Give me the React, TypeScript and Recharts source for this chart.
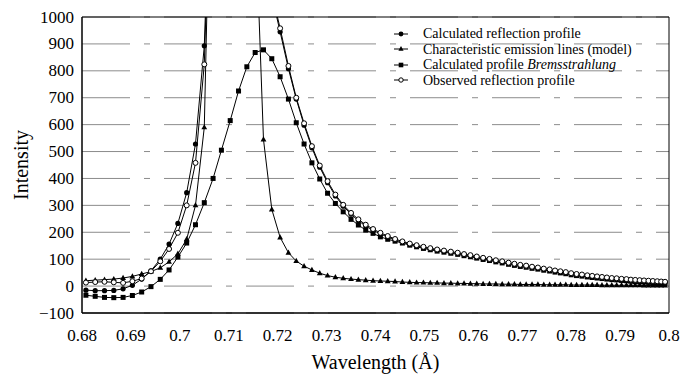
import {
  LineChart,
  Line,
  XAxis,
  YAxis,
  CartesianGrid,
  Legend,
  ReferenceArea,
  Label,
} from 'recharts';

// wavelength grid (Å)
const wavelength = [
  0.6808, 0.6827, 0.6846, 0.6865, 0.6884, 0.6903, 0.6922, 0.6941, 0.696, 0.6978,
  0.6996, 0.7014, 0.7032, 0.705, 0.7068, 0.7085, 0.7103, 0.712, 0.7137, 0.7154,
  0.7171, 0.7188, 0.7205, 0.7222, 0.7238, 0.7254, 0.727, 0.7286, 0.7302, 0.7318,
  0.7334, 0.735, 0.7365, 0.738, 0.7395, 0.741, 0.7425, 0.744, 0.7455, 0.747,
  0.7484, 0.7498, 0.7512, 0.7526, 0.754, 0.7554, 0.7568, 0.7581, 0.7594, 0.7607,
  0.762, 0.7633, 0.7646, 0.7659, 0.7672, 0.7684, 0.7696, 0.7708, 0.772, 0.7732,
  0.7744, 0.7756, 0.7767, 0.7778, 0.7789, 0.78, 0.7811, 0.7822, 0.7833, 0.7843,
  0.7853, 0.7863, 0.7873, 0.7883, 0.7893, 0.7903, 0.7913, 0.7922, 0.7931, 0.794,
  0.7949, 0.7958, 0.7967, 0.7976, 0.7984, 0.7992,
];

const calculated = [
  -15, -17, -17, -16, -10, 3, 26, 57, 100, 156,
  233, 347, 528, 893, 1840, 2700, 3300, 3500, 3200, 2600,
  1800, 1080, 945, 808, 695, 598, 514, 442, 384, 335,
  297, 267, 243, 223, 207, 194, 182, 171, 163, 155,
  149, 143, 138, 133, 129, 125, 121, 116, 112, 107,
  102, 98, 93, 89, 84, 80, 76, 73, 69, 66,
  62, 59, 55, 52, 49, 45, 42, 40, 37, 35,
  33, 31, 29, 27, 26, 24, 23, 21, 20, 19,
  18, 17, 16, 15, 14, 13,
];

const emission = [
  20, 22, 24, 26, 30, 36, 45, 54, 68, 90,
  120, 174, 300, 590, 2050, 2800, 2300, 2600, 2900, 1400,
  545, 285, 181, 124, 93, 74, 60, 48, 39, 33,
  29, 26, 24, 22, 20, 19, 18, 17, 15, 14,
  13, 13, 12, 12, 11, 11, 10, 10, 9, 9,
  8, 8, 8, 7, 7, 7, 6, 6, 6, 6,
  5, 5, 5, 5, 5, 4, 4, 4, 4, 4,
  4, 3, 3, 3, 3, 3, 3, 3, 3, 3,
  2, 2, 2, 2, 2, 2,
];

const bremsstrahlung = [
  -34, -38, -42, -43, -42, -35, -22, -2, 25, 60,
  108, 160, 228, 310, 400, 505, 615, 725, 815, 868,
  878, 845, 778, 695, 607, 528, 458, 398, 345, 307,
  276, 248, 227, 208, 196, 183, 174, 167, 160, 152,
  146, 140, 135, 130, 126, 122, 118, 113, 109, 104,
  99, 95, 90, 86, 81, 77, 73, 70, 66, 63,
  59, 56, 52, 49, 46, 42, 39, 37, 34, 32,
  30, 28, 26, 24, 23, 21, 20, 18, 17, 16,
  15, 14, 13, 12, 11, 10,
];

const observed = [
  13, 15, 16, 14, 12, 18, 28, 55, 92, 138,
  198, 300, 458, 824, 1860, 2600, 3100, 3300, 3000, 2400,
  1700, 1090, 958, 818, 700, 605, 520, 448, 390, 340,
  302, 272, 248, 228, 212, 198, 186, 175, 166, 158,
  152, 146, 141, 136, 132, 128, 124, 119, 115, 110,
  105, 101, 96, 92, 87, 83, 79, 76, 72, 69,
  65, 62, 58, 55, 52, 48, 45, 43, 40, 38,
  36, 34, 32, 30, 29, 27, 26, 24, 23, 22,
  21, 20, 19, 18, 17, 16,
];

const xTicks = [0.68, 0.69, 0.7, 0.71, 0.72, 0.73, 0.74, 0.75, 0.76, 0.77, 0.78, 0.79, 0.8];
const yTicks = [-100, 0, 100, 200, 300, 400, 500, 600, 700, 800, 900, 1000];

const FONT = '"Liberation Serif", "Times New Roman", serif';
const svgText = (size: number) => ({ fontFamily: FONT, fontSize: size, fill: '#000' });

const data = wavelength.map((x, i) => ({
  x,
  calculated: calculated[i],
  emission: emission[i],
  bremsstrahlung: bremsstrahlung[i],
  observed: observed[i],
}));

// marker shapes
function FilledCircle(p: any) {
  if (p.cx == null || p.cy == null) return <g key={p.index} />;
  return <circle key={p.index} cx={p.cx} cy={p.cy} r={2.6} fill="#000" />;
}

function OpenCircle(p: any) {
  if (p.cx == null || p.cy == null) return <g key={p.index} />;
  return <circle key={p.index} cx={p.cx} cy={p.cy} r={2.5} fill="#fff" stroke="#000" strokeWidth={1} />;
}

function Square(p: any) {
  if (p.cx == null || p.cy == null) return <g key={p.index} />;
  return <rect key={p.index} x={p.cx - 2.5} y={p.cy - 2.5} width={5} height={5} fill="#000" />;
}

function Triangle(p: any) {
  if (p.cx == null || p.cy == null) return <g key={p.index} />;
  const { cx, cy } = p;
  return (
    <path
      key={p.index}
      d={`M${cx},${cy - 3.2} L${cx + 2.9},${cy + 2} L${cx - 2.9},${cy + 2} Z`}
      fill="#000"
    />
  );
}

// axis ticks drawn as plain svg text
function XTick({ x, y, payload }: any) {
  return (
    <text x={x} y={y} dy={18} textAnchor="middle" style={svgText(17)}>
      {payload.value}
    </text>
  );
}

function YTick({ x, y, payload }: any) {
  const v = payload.value;
  return (
    <text x={x} y={y} dy={5.5} textAnchor="end" style={svgText(17)}>
      {v < 0 ? `\u2212${Math.abs(v)}` : `${v}`}
    </text>
  );
}

function XTitle({ viewBox }: any) {
  const { x, y, width, height } = viewBox;
  return (
    <text x={x + width / 2} y={y + height - 6} textAnchor="middle" style={svgText(20)}>
      Wavelength (Å)
    </text>
  );
}

function YTitle({ viewBox }: any) {
  const { x, y, height } = viewBox;
  const cx = x + 28;
  const cy = y + height / 2;
  return (
    <text x={cx} y={cy} transform={`rotate(-90 ${cx} ${cy})`} textAnchor="middle" style={svgText(20)}>
      Intensity
    </text>
  );
}

const legendItems = [
  { key: 'calc', label: <>Calculated reflection profile</> },
  { key: 'tri', label: <>Characteristic emission lines (model)</> },
  { key: 'sq', label: <>Calculated profile <i>Bremsstrahlung</i></> },
  { key: 'open', label: <>Observed reflection profile</> },
];

function LegendIcon({ kind }: { kind: string }) {
  return (
    <svg width={16} height={10} style={{ display: 'block' }}>
      <line x1={1} y1={5} x2={15} y2={5} stroke="#000" strokeWidth={1} />
      {kind === 'calc' && <circle cx={8} cy={5} r={2.4} fill="#000" />}
      {kind === 'tri' && <path d="M8,2 L10.6,6.8 L5.4,6.8 Z" fill="#000" />}
      {kind === 'sq' && <rect x={5.7} y={2.7} width={4.6} height={4.6} fill="#000" />}
      {kind === 'open' && <circle cx={8} cy={5} r={2.2} fill="#fff" stroke="#000" strokeWidth={1} />}
    </svg>
  );
}

function LegendBox() {
  return (
    <div style={{ fontFamily: FONT, fontSize: 14, lineHeight: '15.5px', color: '#000', whiteSpace: 'nowrap' }}>
      {legendItems.map((it) => (
        <div key={it.key} style={{ display: 'flex', alignItems: 'center' }}>
          <LegendIcon kind={it.key} />
          <span style={{ marginLeft: 14 }}>{it.label}</span>
        </div>
      ))}
    </div>
  );
}

export default function App() {
  return (
    <div style={{ position: 'absolute', left: 0, top: 0, width: 684, height: 375, background: '#fff' }}>
      <LineChart width={684} height={375} data={data} margin={{ top: 17, right: 15, bottom: 0, left: 0 }}>
        <CartesianGrid vertical={false} stroke="#8c8c8c" strokeDasharray="48 14 6 14" />
        <XAxis
          dataKey="x"
          type="number"
          domain={[0.68, 0.8]}
          ticks={xTicks}
          allowDataOverflow
          height={62}
          tickLine={false}
          tickMargin={4}
          axisLine={{ stroke: '#000' }}
          tick={<XTick />}
        >
          <Label content={<XTitle />} />
        </XAxis>
        <YAxis
          type="number"
          domain={[-100, 1000]}
          ticks={yTicks}
          allowDataOverflow
          width={82}
          tickLine={false}
          axisLine={{ stroke: '#000' }}
          tick={<YTick />}
        >
          <Label content={<YTitle />} />
        </YAxis>
        <ReferenceArea x1={0.68} x2={0.8} y1={-100} y2={1000} fill="none" stroke="#000" strokeWidth={1} />
        <Line
          type="linear"
          dataKey="calculated"
          stroke="#000"
          strokeWidth={1}
          dot={FilledCircle}
          activeDot={false}
          isAnimationActive={false}
        />
        <Line
          type="linear"
          dataKey="emission"
          stroke="#000"
          strokeWidth={1}
          dot={Triangle}
          activeDot={false}
          isAnimationActive={false}
        />
        <Line
          type="linear"
          dataKey="bremsstrahlung"
          stroke="#000"
          strokeWidth={1}
          dot={Square}
          activeDot={false}
          isAnimationActive={false}
        />
        <Line
          type="linear"
          dataKey="observed"
          stroke="#000"
          strokeWidth={1}
          dot={OpenCircle}
          activeDot={false}
          isAnimationActive={false}
        />
        <Legend
          layout="horizontal"
          verticalAlign="middle"
          align="center"
          content={() => <LegendBox />}
          wrapperStyle={{ top: 26, left: 393, width: 'auto', right: 'auto', bottom: 'auto' }}
        />
      </LineChart>
    </div>
  );
}
